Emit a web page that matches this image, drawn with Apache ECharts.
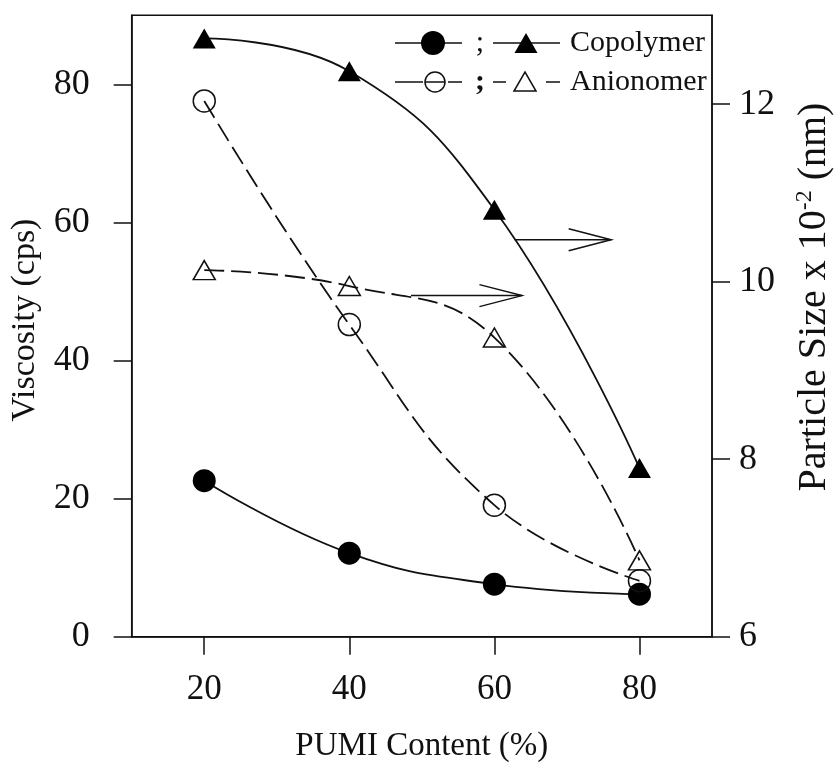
<!DOCTYPE html>
<html>
<head>
<meta charset="utf-8">
<script src="https://cdn.jsdelivr.net/npm/echarts/dist/echarts.min.js"></script>
<style>
html,body{margin:0;padding:0;background:#fff;}
#chart{width:835px;height:768px;}
</style>
</head>
<body>
<div id="chart"></div>
<script>
// ---- data ----
const pumiContent = [20, 40, 60, 80];
const xTicks = [20, 40, 60, 80];
const viscosityTicks = [0, 20, 40, 60, 80];
const sizeTicks = [6, 8, 10, 12];
const viscosityCopolymer = [22.6, 12.1, 7.6, 6.15];
const viscosityAnionomer = [77.6, 45.2, 19.05, 8.1];
const sizeCopolymer = [12.74, 12.37, 10.81, 7.90];
const sizeAnionomer = [10.13, 9.95, 9.37, 6.86];
// arrows in data coordinates (x, viscosity axis)
const arrowUpper = [[62.8, 57.5], [76.1, 57.5]];
const arrowLower = [[48.5, 49.4], [63.8, 49.4]];

const FONT = '"Liberation Serif", "DejaVu Serif", serif';
const INK = '#111';

function pairs(xs, ys) { return xs.map((x, i) => [x, ys[i]]); }

const chart = echarts.init(document.getElementById('chart'), null, {renderer: 'canvas'});

const axisCommon = {
  axisLine: {show: true, lineStyle: {color: INK, width: 1.5}},
  axisTick: {show: true, inside: false, length: 18, lineStyle: {color: INK, width: 1.5}},
  splitLine: {show: false}
};

const option = {
  animation: false,
  backgroundColor: '#fff',
  grid: {left: 131.7, right: 123, top: 15.3, bottom: 131.3, show: true, borderColor: INK, borderWidth: 1.5,
         containLabel: false, outerBoundsMode: 'none'},
  xAxis: Object.assign({}, axisCommon, {
    type: 'value', min: 10, max: 90,
    name: 'PUMI Content (%)', nameLocation: 'middle', nameGap: 93,
    nameTextStyle: {fontFamily: FONT, fontSize: 33, color: INK},
    axisTick: Object.assign({}, axisCommon.axisTick, {customValues: xTicks}),
    axisLabel: {customValues: xTicks, fontFamily: FONT, fontSize: 35, color: INK, margin: 36}
  }),
  yAxis: [
    Object.assign({}, axisCommon, {
      type: 'value', min: 0, max: 90, position: 'left',
      name: 'Viscosity (cps)', nameLocation: 'middle', nameGap: 90, nameRotate: 90,
      nameTextStyle: {fontFamily: FONT, fontSize: 34, color: INK, padding: [0, 0, 0, 12]},
      axisTick: Object.assign({}, axisCommon.axisTick, {customValues: viscosityTicks}),
      axisLabel: {customValues: viscosityTicks, fontFamily: FONT, fontSize: 36, color: INK, margin: 42}
    }),
    Object.assign({}, axisCommon, {
      type: 'value', min: 6, max: 13, position: 'right',
      name: '{a|Particle Size x 10}{s|-2}{a| (nm)}', nameLocation: 'middle', nameGap: 81, nameRotate: 90,
      nameTextStyle: {
        fontFamily: FONT, fontSize: 40, color: INK, padding: [0, 0, 0, 58],
        rich: {
          a: {fontFamily: FONT, fontSize: 40, color: INK},
          s: {fontFamily: FONT, fontSize: 24, color: INK, verticalAlign: 'top', padding: [0, 0, 18, 0]}
        }
      },
      axisTick: Object.assign({}, axisCommon.axisTick, {customValues: sizeTicks}),
      axisLabel: {customValues: sizeTicks, fontFamily: FONT, fontSize: 36, color: INK, margin: 27}
    })
  ],
  series: [
    {
      name: 'Viscosity Copolymer', type: 'line', yAxisIndex: 0, smooth: 0.45,
      data: pairs(pumiContent, viscosityCopolymer),
      symbol: 'circle', symbolSize: 23,
      itemStyle: {color: '#000', borderColor: '#000', borderWidth: 0},
      lineStyle: {color: INK, width: 1.8, type: 'solid'}
    },
    {
      name: 'Viscosity Anionomer', type: 'line', yAxisIndex: 0, smooth: 0.45,
      data: pairs(pumiContent, viscosityAnionomer),
      symbol: 'circle', symbolSize: 22,
      itemStyle: {color: 'rgba(0,0,0,0)', borderColor: INK, borderWidth: 1.5},
      lineStyle: {color: INK, width: 1.8, type: [20, 7]}
    },
    {
      name: 'Size Copolymer', type: 'line', yAxisIndex: 1, smooth: 0.45,
      data: pairs(pumiContent, sizeCopolymer),
      symbol: 'triangle', symbolSize: [23, 20],
      itemStyle: {color: '#000', borderColor: '#000', borderWidth: 0},
      lineStyle: {color: INK, width: 1.8, type: 'solid'}
    },
    {
      name: 'Size Anionomer', type: 'line', yAxisIndex: 1, smooth: 0.45,
      data: pairs(pumiContent, sizeAnionomer),
      symbol: 'triangle', symbolSize: [22, 19],
      itemStyle: {color: 'rgba(0,0,0,0)', borderColor: INK, borderWidth: 1.5},
      lineStyle: {color: INK, width: 1.8, type: [20, 7]}
    }
  ]
};
chart.setOption(option);

// ---- arrows and legend (graphic annotations) ----
function arrowShapes(a) {
  const p0 = chart.convertToPixel({xAxisIndex: 0, yAxisIndex: 0}, a[0]);
  const p1 = chart.convertToPixel({xAxisIndex: 0, yAxisIndex: 0}, a[1]);
  const st = {stroke: INK, lineWidth: 1.5, fill: null};
  return [
    {type: 'polyline', shape: {points: [p0, p1]}, style: st, z: 10},
    {type: 'polyline', shape: {points: [[p1[0] - 42.5, p1[1] - 11], p1, [p1[0] - 42.5, p1[1] + 11]]}, style: st, z: 10}
  ];
}

const lg = {stroke: INK, lineWidth: 1.5, fill: null};
const LFONT = '30px ' + FONT;
const legendEls = [
  // row 1
  {type: 'line', shape: {x1: 395, y1: 43, x2: 462, y2: 43}, style: lg},
  {type: 'circle', shape: {cx: 433, cy: 43, r: 12}, style: {fill: '#000'}},
  {type: 'text', style: {text: ';', x: 480, y: 43, font: LFONT, fill: INK, align: 'center', verticalAlign: 'middle'}},
  {type: 'line', shape: {x1: 493, y1: 43, x2: 560, y2: 43}, style: lg},
  {type: 'polygon', shape: {points: [[514.5, 53], [537.5, 53], [526, 33]]}, style: {fill: '#000'}},
  {type: 'text', style: {text: 'Copolymer', x: 570, y: 43, font: LFONT, fill: INK, align: 'left', verticalAlign: 'middle'}},
  // row 2
  {type: 'line', shape: {x1: 395, y1: 82, x2: 423, y2: 82}, style: lg},
  {type: 'circle', shape: {cx: 435, cy: 82, r: 10}, style: {stroke: INK, lineWidth: 1.5, fill: null}},
  {type: 'line', shape: {x1: 425, y1: 82, x2: 445, y2: 82}, style: lg},
  {type: 'line', shape: {x1: 448, y1: 82, x2: 462, y2: 82}, style: lg},
  {type: 'text', style: {text: ';', x: 480, y: 82, font: 'bold ' + LFONT, fill: INK, align: 'center', verticalAlign: 'middle'}},
  {type: 'line', shape: {x1: 493, y1: 82, x2: 506, y2: 82}, style: lg},
  {type: 'polygon', shape: {points: [[514, 91], [536, 91], [525, 72]]}, style: {stroke: INK, lineWidth: 1.5, fill: null}},
  {type: 'line', shape: {x1: 546, y1: 82, x2: 560, y2: 82}, style: lg},
  {type: 'text', style: {text: 'Anionomer', x: 570, y: 82, font: LFONT, fill: INK, align: 'left', verticalAlign: 'middle'}}
];

chart.setOption({graphic: arrowShapes(arrowUpper).concat(arrowShapes(arrowLower)).concat(legendEls)});
</script>
</body>
</html>
